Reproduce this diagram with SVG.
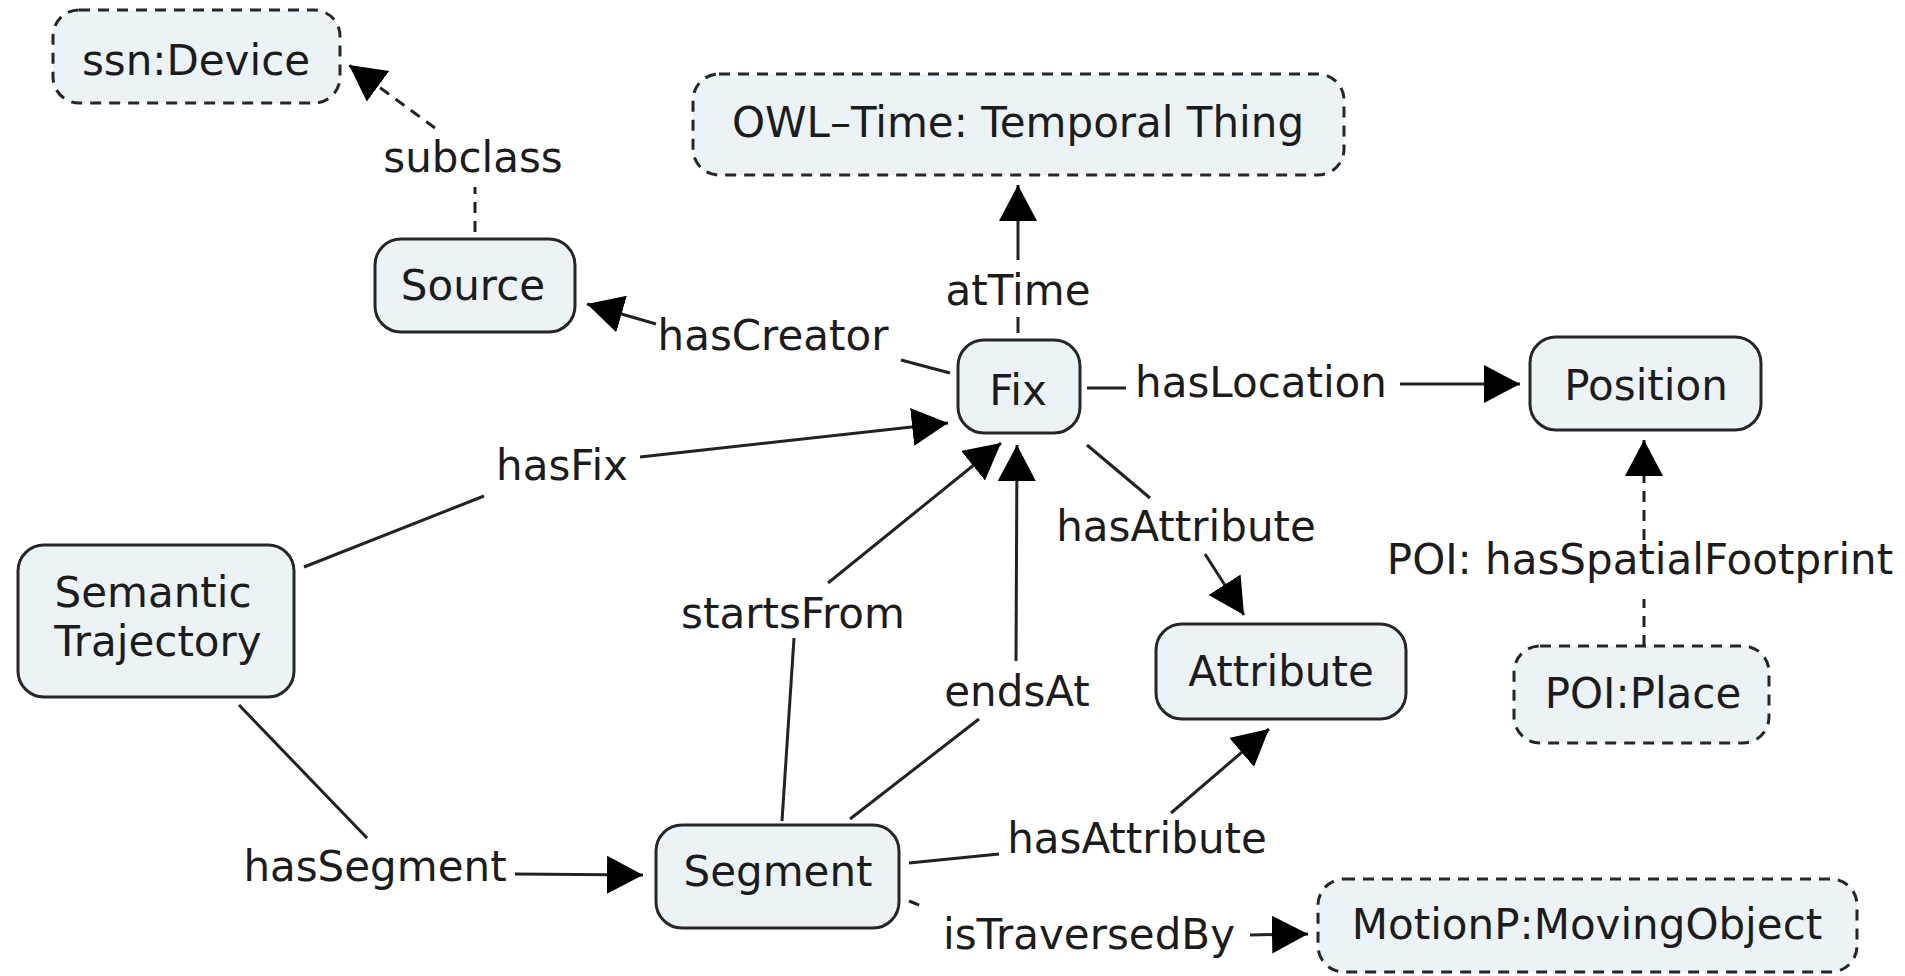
<svg xmlns="http://www.w3.org/2000/svg" width="1905" height="976" viewBox="0 0 1905 976">
<style>
.n{fill:#ECF3F6;stroke:#262626;stroke-width:3}
.d{fill:#ECF3F6;stroke:#262626;stroke-width:3;stroke-dasharray:11 8}
.t{font-family:"DejaVu Sans",sans-serif;font-size:42px;fill:#1c1c1c;text-anchor:middle}
.l{fill:none;stroke:#222;stroke-width:3}
.ld{fill:none;stroke:#222;stroke-width:3;stroke-dasharray:11 8}
</style>
<defs>
<marker id="a" markerUnits="userSpaceOnUse" markerWidth="40" markerHeight="40" refX="36" refY="19" orient="auto">
<path d="M0,0 L36,19 L0,38 z" fill="#000"/>
</marker>
</defs>
<rect width="1905" height="976" fill="#fff"/>
<g id="connectors">
<line class="ld" x1="475" y1="232" x2="475" y2="187"/>
<line class="ld" x1="435" y1="128" x2="349" y2="65" marker-end="url(#a)"/>
<text class="t" x="473" y="172">subclass</text>
<line class="l" x1="950" y1="373" x2="901" y2="360"/>
<line class="l" x1="656" y1="324" x2="587" y2="304" marker-end="url(#a)"/>
<text class="t" x="773" y="350">hasCreator</text>
<line class="l" x1="1018" y1="333" x2="1018" y2="317"/>
<line class="l" x1="1018" y1="260" x2="1018" y2="185" marker-end="url(#a)"/>
<text class="t" x="1018" y="305">atTime</text>
<line class="l" x1="1087" y1="388" x2="1126" y2="388"/>
<line class="l" x1="1400" y1="384" x2="1520" y2="384" marker-end="url(#a)"/>
<text class="t" x="1261" y="397">hasLocation</text>
<line class="l" x1="304" y1="567" x2="484" y2="496"/>
<line class="l" x1="640" y1="457" x2="948" y2="423" marker-end="url(#a)"/>
<text class="t" x="562" y="480">hasFix</text>
<line class="l" x1="239" y1="705" x2="367" y2="838"/>
<line class="l" x1="515" y1="874" x2="643" y2="875" marker-end="url(#a)"/>
<text class="t" x="375" y="881">hasSegment</text>
<line class="l" x1="782" y1="821" x2="794" y2="638"/>
<line class="l" x1="828" y1="583" x2="1001" y2="443" marker-end="url(#a)"/>
<text class="t" x="793" y="628">startsFrom</text>
<line class="l" x1="850" y1="819" x2="979" y2="719"/>
<line class="l" x1="1016" y1="661" x2="1017" y2="445" marker-end="url(#a)"/>
<text class="t" x="1017" y="706">endsAt</text>
<line class="l" x1="1087" y1="445" x2="1150" y2="498"/>
<line class="l" x1="1205" y1="554" x2="1244" y2="615" marker-end="url(#a)"/>
<text class="t" x="1186" y="541">hasAttribute</text>
<line class="l" x1="909" y1="863" x2="999" y2="854"/>
<line class="l" x1="1171" y1="813" x2="1269" y2="729" marker-end="url(#a)"/>
<text class="t" x="1137" y="853">hasAttribute</text>
<line class="ld" x1="909" y1="901" x2="926" y2="908"/>
<line class="l" x1="1250" y1="935" x2="1308" y2="934" marker-end="url(#a)"/>
<text class="t" x="1089" y="949">isTraversedBy</text>
<line class="ld" x1="1644" y1="646" x2="1644" y2="599"/>
<line class="ld" x1="1644" y1="540" x2="1644" y2="440" marker-end="url(#a)"/>
<text class="t" x="1640" y="574">POI: hasSpatialFootprint</text>
</g>
<g id="ssnDevice"><rect class="d" x="53" y="10" width="287" height="93" rx="26"/><text class="t" x="196" y="75">ssn:Device</text></g>
<g id="owlTime"><rect class="d" x="693" y="74" width="651" height="101" rx="26"/><text class="t" x="1018" y="137">OWL–Time: Temporal Thing</text></g>
<g id="source"><rect class="n" x="375" y="239" width="200" height="93" rx="26"/><text class="t" x="473" y="300">Source</text></g>
<g id="fix"><rect class="n" x="958" y="340" width="122" height="93" rx="26"/><text class="t" x="1018" y="405">Fix</text></g>
<g id="position"><rect class="n" x="1530" y="337" width="231" height="93" rx="26"/><text class="t" x="1646" y="400">Position</text></g>
<g id="semanticTrajectory"><rect class="n" x="18" y="545" width="276" height="152" rx="26"/><text class="t" x="153" y="607">Semantic</text><text class="t" x="158" y="656">Trajectory</text></g>
<g id="segment"><rect class="n" x="656" y="825" width="243" height="103" rx="26"/><text class="t" x="778" y="886">Segment</text></g>
<g id="attribute"><rect class="n" x="1156" y="624" width="250" height="95" rx="26"/><text class="t" x="1281" y="686">Attribute</text></g>
<g id="poiPlace"><rect class="d" x="1514" y="646" width="255" height="97" rx="26"/><text class="t" x="1643" y="708">POI:Place</text></g>
<g id="movingObject"><rect class="d" x="1318" y="879" width="539" height="93" rx="26"/><text class="t" x="1587" y="939">MotionP:MovingObject</text></g>
</svg>
